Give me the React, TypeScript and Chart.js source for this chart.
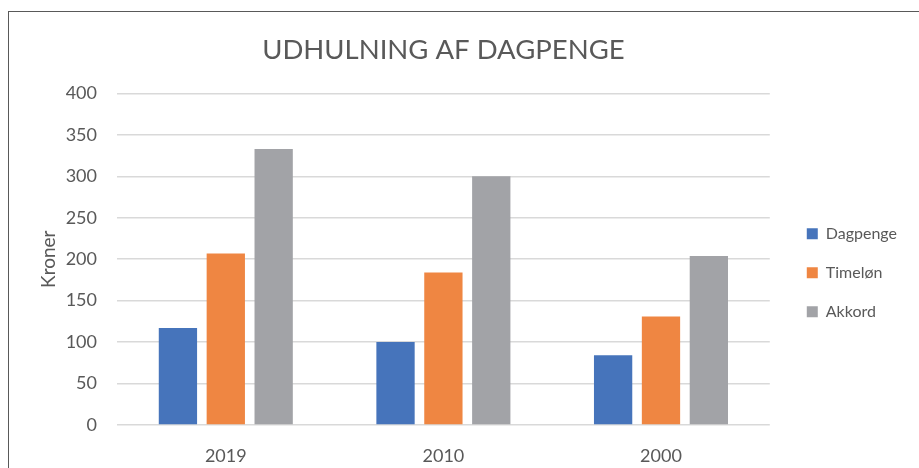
import React, { useEffect, useRef } from 'react';
import { Chart, registerables } from 'chart.js';

Chart.register(...registerables);

const categories = ['2019', '2010', '2000'];
const seriesNames = ['Dagpenge', 'Timeløn', 'Akkord'];
const dagpenge = [117, 100, 84];
const timelon = [207, 184, 131];
const akkord = [333, 300, 204];
const seriesColors = ['#4674BB', '#EF8642', '#A2A3A7'];
const yMin = 0;
const yMax = 400;
const yStep = 50;
const chartTitle = 'UDHULNING AF DAGPENGE';
const yAxisTitle = 'Kroner';

const FONT = 'Lato, "Open Sans", sans-serif';
const TEXT = '#595959';

export default function App() {
  const ref = useRef<HTMLCanvasElement | null>(null);

  useEffect(() => {
    if (!ref.current) return;
    const values = [dagpenge, timelon, akkord];
    const chart = new Chart(ref.current, {
      type: 'bar',
      data: {
        labels: categories,
        datasets: seriesNames.map((name, i) => ({
          label: name,
          data: values[i],
          backgroundColor: seriesColors[i],
          borderWidth: 0,
          categoryPercentage: 0.66,
          barPercentage: 0.8,
        })),
      },
      options: {
        animation: false,
        responsive: false,
        devicePixelRatio: 1,
        layout: { padding: { left: 28, right: 12, top: 0, bottom: 1 } },
        plugins: {
          title: {
            display: true,
            text: chartTitle,
            fullSize: false,
            color: TEXT,
            font: { family: FONT, size: 27.5, weight: '400', lineHeight: 1.2 },
            padding: { top: 22, bottom: 26.4 },
          },
          legend: {
            display: true,
            position: 'right',
            align: 'center',
            fullSize: false,
            title: {
              display: true,
              text: '',
              font: { family: FONT, size: 10, lineHeight: 1.2 },
              padding: { top: 15, bottom: 0 },
            },
            labels: {
              boxWidth: 11,
              boxHeight: 11,
              padding: 23,
              color: TEXT,
              font: { family: FONT, size: 16 },
            },
          },
          tooltip: { enabled: false },
        },
        scales: {
          x: {
            grid: { display: false, drawTicks: false },
            border: { display: false },
            ticks: { color: TEXT, font: { family: FONT, size: 18 }, padding: 20 },
            afterFit: (s: any) => {
              s.height = 42;
            },
          },
          y: {
            min: yMin,
            max: yMax,
            ticks: { stepSize: yStep, color: TEXT, font: { family: FONT, size: 18 }, padding: 20 },
            grid: { color: '#D9D9D9', lineWidth: 1.5, drawTicks: false },
            border: { display: false },
            title: {
              display: true,
              text: yAxisTitle,
              color: TEXT,
              font: { family: FONT, size: 19, lineHeight: 1.2 },
              padding: 0,
            },
            afterFit: (s: any) => {
              s.width = 80;
            },
          },
          y2: {
            position: 'right',
            display: true,
            grid: { display: false, drawTicks: false },
            border: { display: false },
            ticks: { display: false },
            afterFit: (s: any) => {
              s.width = 14;
            },
          },
        },
      },
    });
    return () => chart.destroy();
  }, []);

  return (
    <div
      style={{
        position: 'absolute',
        left: 8,
        top: 11,
        width: 911,
        height: 457,
        boxSizing: 'border-box',
        borderTop: '1px solid #595959',
        borderLeft: '1px solid #595959',
        background: '#fff',
        overflow: 'hidden',
      }}
    >
      <canvas ref={ref} width={910} height={456} style={{ display: 'block' }} />
    </div>
  );
}
